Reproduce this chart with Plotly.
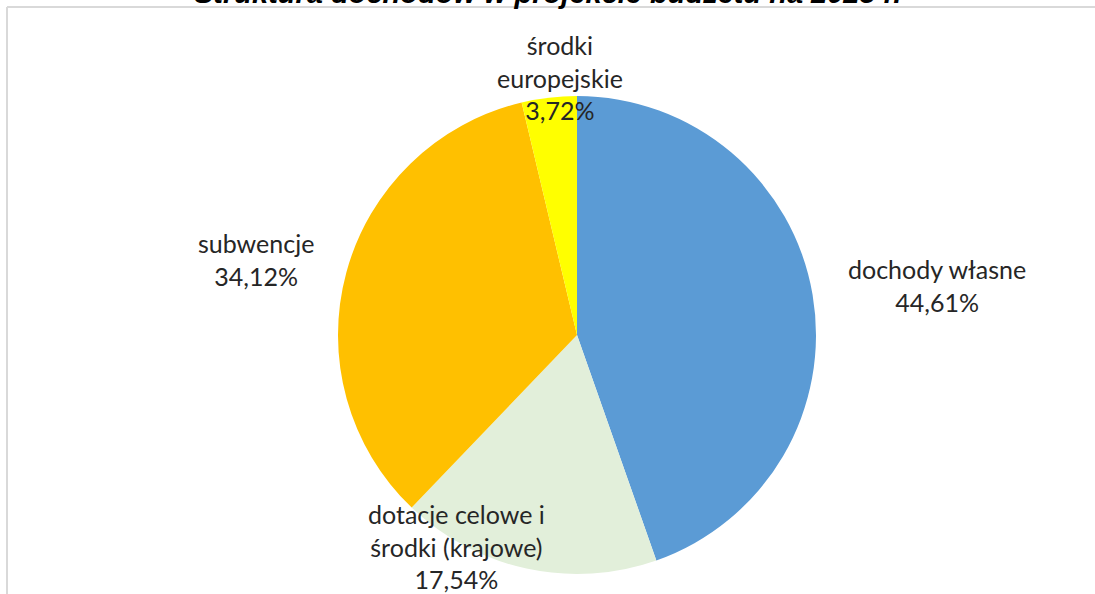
import plotly.graph_objects as go

categories = ["dochody własne", "dotacje celowe i<br>środki (krajowe)", "subwencje", "środki<br>europejskie"]
values = [44.61, 17.54, 34.12, 3.72]
value_labels = ["44,61%", "17,54%", "34,12%", "3,72%"]
colors = ["#5B9BD5", "#E2EFDA", "#FFC000", "#FFFF00"]
title_text = "Struktura dochodów w projekcie budżetu na 2025 r."

W, H = 1095, 594
cx, cy, r = 577, 335, 239

fig = go.Figure()
fig.add_trace(go.Pie(
    labels=categories,
    values=values,
    marker=dict(colors=colors, line=dict(width=0)),
    sort=False,
    direction="clockwise",
    rotation=0,
    textinfo="none",
    hoverinfo="label+percent",
    showlegend=False,
    domain=dict(x=[(cx - r) / W, (cx + r) / W], y=[1 - (cy + r) / H, 1 - (cy - r) / H]),
))

label_pos = [(937, 286), (456, 546), (256, 259), (560, 77)]
for cat, vl, (lx, ly) in zip(categories, value_labels, label_pos):
    fig.add_annotation(
        text=f"{cat}<br>{vl}", x=lx / W, y=1 - ly / H, xref="paper", yref="paper",
        showarrow=False, xanchor="center", yanchor="middle", align="center",
        font=dict(family="Lato", size=25, color="#262626"),
    )

fig.add_annotation(
    text=f"<b><i>{title_text}</i></b>", x=547 / W, y=1 - 11 / H, xref="paper", yref="paper",
    showarrow=False, xanchor="center", yanchor="bottom",
    font=dict(family="Liberation Sans", size=29, color="#000000"),
)

fig.add_shape(type="line", xref="paper", yref="paper", x0=7 / W, x1=1.01, y0=1 - 7 / H, y1=1 - 7 / H,
              line=dict(color="#D9D9D9", width=2))
fig.add_shape(type="line", xref="paper", yref="paper", x0=7 / W, x1=7 / W, y0=1 - 7 / H, y1=-0.01,
              line=dict(color="#D9D9D9", width=2))

fig.update_layout(
    width=W, height=H,
    margin=dict(l=0, r=0, t=0, b=0),
    paper_bgcolor="white", plot_bgcolor="white",
)

fig.write_html("out.html", config={"displayModeBar": False},
               post_script="document.body.style.margin='0';document.body.style.overflow='hidden';")
